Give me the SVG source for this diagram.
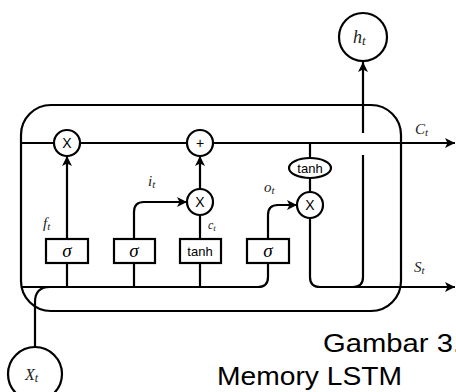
<svg xmlns="http://www.w3.org/2000/svg" width="456" height="392" viewBox="0 0 456 392">
<defs>
<marker id="arr" viewBox="0 0 10 10" refX="10" refY="5" markerWidth="10" markerHeight="10" markerUnits="userSpaceOnUse" orient="auto">
<path d="M0,0 L10,5 L0,10 L2.5,5 Z" fill="#000"/>
</marker>
</defs>
<style>
.ln{fill:none;stroke:#000;stroke-width:2.2}
.nd{fill:#fff;stroke:#000;stroke-width:2.2}
.op{font-family:"Liberation Sans",Arial,sans-serif;font-size:14px;text-anchor:middle;fill:#000}
.sg{font-family:"Liberation Serif","DejaVu Serif",serif;font-style:italic;font-size:19px;text-anchor:middle;fill:#000}
.lb{font-family:"Liberation Serif","DejaVu Serif",serif;font-style:italic;font-size:15px;fill:#222}
.sb{font-size:11px}
.cap{font-family:"Liberation Sans",Arial,sans-serif;font-size:26px;fill:#000}
</style>
<rect id="cell" class="ln" x="21" y="105" width="380" height="206" rx="30"/>
<g id="connectors">
<path class="ln" d="M21,143 H455" marker-end="url(#arr)"/>
<path class="ln" d="M21,287 H258 Q268,287 268,277 V263"/>
<path class="ln" d="M35,347 V302 Q35,287 50,287"/>
<path class="ln" d="M67,287 V263"/>
<path class="ln" d="M67,239 V156" marker-end="url(#arr)"/>
<path class="ln" d="M134,287 V263"/>
<path class="ln" d="M134,239 V212 Q134,202 144,202 H187" marker-end="url(#arr)"/>
<path class="ln" d="M200,287 V263"/>
<path class="ln" d="M200,239 V215"/>
<path class="ln" d="M200,189 V156" marker-end="url(#arr)"/>
<path class="ln" d="M268,239 V215 Q268,205 278,205 H297" marker-end="url(#arr)"/>
<path class="ln" d="M310,143 V158"/>
<path class="ln" d="M310,178 V192"/>
<path class="ln" d="M310,218 V277 Q310,287 320,287 H455" marker-end="url(#arr)"/>
<path class="ln" d="M353,287 Q363,287 363,277 V155"/>
<path class="ln" d="M363,133 V62" marker-end="url(#arr)"/>
</g>
<g id="forget-mul"><circle class="nd" cx="67" cy="143" r="13"/><text class="op" x="67" y="148">X</text></g>
<g id="add"><circle class="nd" cx="200" cy="143" r="13"/><text class="op" x="200" y="148">+</text></g>
<g id="input-mul"><circle class="nd" cx="200" cy="202" r="13"/><text class="op" x="200" y="207">X</text></g>
<g id="output-mul"><circle class="nd" cx="310" cy="205" r="13"/><text class="op" x="310" y="210">X</text></g>
<g id="output-tanh"><ellipse class="nd" cx="310" cy="168" rx="21" ry="10"/><text class="op" x="310" y="173" style="font-size:13px">tanh</text></g>
<g id="forget-gate"><rect class="nd" x="46" y="239" width="42" height="24"/><text class="sg" x="67" y="257">σ</text></g>
<g id="input-gate"><rect class="nd" x="114" y="239" width="41" height="24"/><text class="sg" x="134" y="257">σ</text></g>
<g id="cand-tanh"><rect class="nd" x="180" y="239" width="41" height="24"/><text class="op" x="200" y="256" style="font-size:13px">tanh</text></g>
<g id="output-gate"><rect class="nd" x="247" y="239" width="42" height="24"/><text class="sg" x="268" y="257">σ</text></g>
<g id="h-out"><circle class="nd" cx="363" cy="37" r="24"/><text class="lb" x="353" y="43" style="font-size:18px">h<tspan dy="2" style="font-size:13px">t</tspan></text></g>
<g id="x-in"><circle class="nd" cx="35" cy="374" r="27"/><text class="lb" x="25" y="380" style="font-size:16px">X<tspan dy="2" style="font-size:12px">t</tspan></text></g>
<g id="labels">
<text class="lb" x="43" y="228">f<tspan class="sb" dy="2">t</tspan></text>
<text class="lb" x="148" y="186">i<tspan class="sb" dy="2">t</tspan></text>
<text class="lb" x="208" y="229" style="font-size:12px">c<tspan dy="2" style="font-size:9px">t</tspan></text>
<text class="lb" x="264" y="192">o<tspan class="sb" dy="2">t</tspan></text>
<text class="lb" x="415" y="134">C<tspan class="sb" dy="2">t</tspan></text>
<text class="lb" x="414" y="272">S<tspan class="sb" dy="2">t</tspan></text>
</g>
<text class="cap" x="323" y="352" textLength="138" lengthAdjust="spacingAndGlyphs">Gambar 3.</text>
<text class="cap" x="217" y="385" textLength="185" lengthAdjust="spacingAndGlyphs">Memory LSTM</text>
</svg>
